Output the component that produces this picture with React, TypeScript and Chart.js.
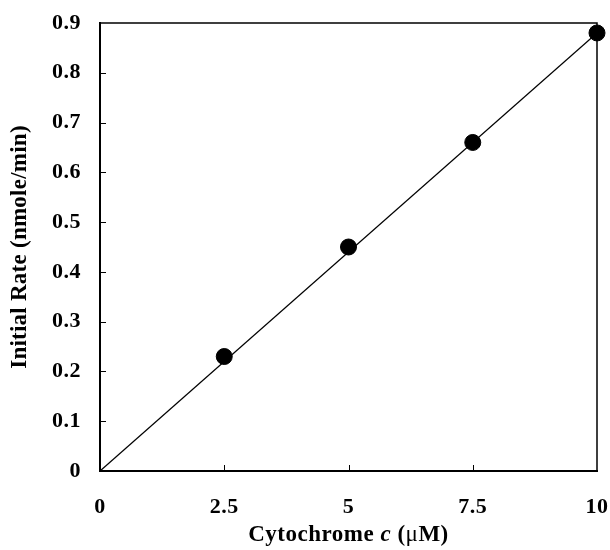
import React, { useEffect, useRef } from "react";
import { Chart, registerables } from "chart.js";

Chart.register(...registerables);

const concentrations = [2.5, 5, 7.5, 10];
const rates = [0.23, 0.45, 0.66, 0.88];
const fitX = [0, 10];
const fitY = [0, 0.88];
const xTickValues = [0, 2.5, 5, 7.5, 10];
const yTickValues = [0, 0.1, 0.2, 0.3, 0.4, 0.5, 0.6, 0.7, 0.8, 0.9];
const xTitleParts = [
  { text: "Cytochrome ", style: "bold" },
  { text: "c", style: "italic bold" },
  { text: " (", style: "bold" },
  { text: "\u03bc", style: "normal" },
  { text: "M)", style: "bold" },
];
const yTitle = "Initial Rate (nmole/min)";

const FONT = "'Liberation Serif', 'Times New Roman', serif";

const spacingPlugin = {
  id: "spacing",
  beforeDraw(chart: any) {
    chart.ctx.letterSpacing = "0.5px";
  },
  afterDraw(chart: any) {
    chart.ctx.letterSpacing = "0px";
  },
};

const decorPlugin = {
  id: "decor",
  afterDraw(chart: any) {
    const { ctx, chartArea, scales } = chart;
    const { left, right, top, bottom } = chartArea;
    ctx.save();
    ctx.strokeStyle = "#000";
    // top and right frame
    ctx.lineWidth = 1.5;
    ctx.beginPath();
    ctx.moveTo(left, top);
    ctx.lineTo(right, top);
    ctx.lineTo(right, bottom);
    ctx.stroke();
    // inward ticks
    ctx.lineWidth = 1;
    ctx.beginPath();
    yTickValues.forEach((v) => {
      if (v === yTickValues[0] || v === yTickValues[yTickValues.length - 1]) return;
      const y = Math.round(scales.y.getPixelForValue(v)) + 0.5;
      ctx.moveTo(left, y);
      ctx.lineTo(left + 6, y);
    });
    xTickValues.forEach((v) => {
      if (v === xTickValues[0] || v === xTickValues[xTickValues.length - 1]) return;
      const x = Math.round(scales.x.getPixelForValue(v)) + 0.5;
      ctx.moveTo(x, bottom);
      ctx.lineTo(x, bottom - 6);
    });
    ctx.stroke();

    // x title with mixed styles
    ctx.fillStyle = "#000";
    ctx.textBaseline = "middle";
    ctx.textAlign = "left";
    ctx.letterSpacing = "0.5px";
    const size = 23;
    let total = 0;
    xTitleParts.forEach((p) => {
      ctx.font = `${p.style} ${size}px ${FONT}`;
      total += ctx.measureText(p.text).width;
    });
    let x = (left + right) / 2 - total / 2;
    const ty = 535;
    xTitleParts.forEach((p) => {
      ctx.font = `${p.style} ${size}px ${FONT}`;
      ctx.fillText(p.text, x, ty);
      x += ctx.measureText(p.text).width;
    });

    // y title
    ctx.letterSpacing = "0.25px";
    ctx.translate(20, (top + bottom) / 2);
    ctx.rotate(-Math.PI / 2);
    ctx.textAlign = "center";
    ctx.font = `bold ${size}px ${FONT}`;
    ctx.fillText(yTitle, 0, 0);
    ctx.restore();
  },
};

export default function App() {
  const ref = useRef<HTMLCanvasElement>(null);
  useEffect(() => {
    document.body.style.margin = "0";
    const chart = new Chart(ref.current!, {
      type: "scatter",
      data: {
        datasets: [
          {
            label: "fit",
            data: fitX.map((x, i) => ({ x, y: fitY[i] })),
            showLine: true,
            borderColor: "#000",
            borderWidth: 1.2,
            pointRadius: 0,
            clip: false,
          },
          {
            label: "rate",
            data: concentrations.map((x, i) => ({ x, y: rates[i] })),
            backgroundColor: "#000",
            borderColor: "#000",
            pointRadius: 8,
            clip: false,
          },
        ],
      },
      options: {
        animation: false,
        responsive: false,
        layout: { padding: { top: 23, right: 13, left: 0, bottom: 0 } },
        plugins: { legend: { display: false }, tooltip: { enabled: false } },
        scales: {
          x: {
            type: "linear",
            min: 0,
            max: 10,
            afterFit: (s: any) => {
              s.height = 79;
              s.paddingLeft = 0;
              s.paddingRight = 0;
              s.paddingTop = 0;
              s.paddingBottom = 0;
            },
            afterBuildTicks: (s: any) => {
              s.ticks = xTickValues.map((v) => ({ value: v }));
            },
            grid: { display: false, drawTicks: false },
            border: { display: true, color: "#000", width: 2 },
            ticks: {
              color: "#000",
              padding: 23,
              maxRotation: 0,
              font: { family: FONT, size: 22, weight: "bold" },
            },
          },
          y: {
            type: "linear",
            min: 0,
            max: 0.9,
            afterFit: (s: any) => {
              s.width = 100;
              s.paddingLeft = 0;
              s.paddingRight = 0;
              s.paddingTop = 0;
              s.paddingBottom = 0;
            },
            afterBuildTicks: (s: any) => {
              s.ticks = yTickValues.map((v) => ({ value: v }));
            },
            grid: { display: false, drawTicks: false },
            border: { display: true, color: "#000", width: 2 },
            ticks: {
              color: "#000",
              padding: 19,
              font: { family: FONT, size: 22, weight: "bold" },
            },
          },
        },
      },
      plugins: [spacingPlugin, decorPlugin],
    } as any);
    return () => chart.destroy();
  }, []);
  return (
    <div style={{ width: 610, height: 550 }}>
      <canvas ref={ref} width={610} height={550} style={{ display: "block" }} />
    </div>
  );
}
